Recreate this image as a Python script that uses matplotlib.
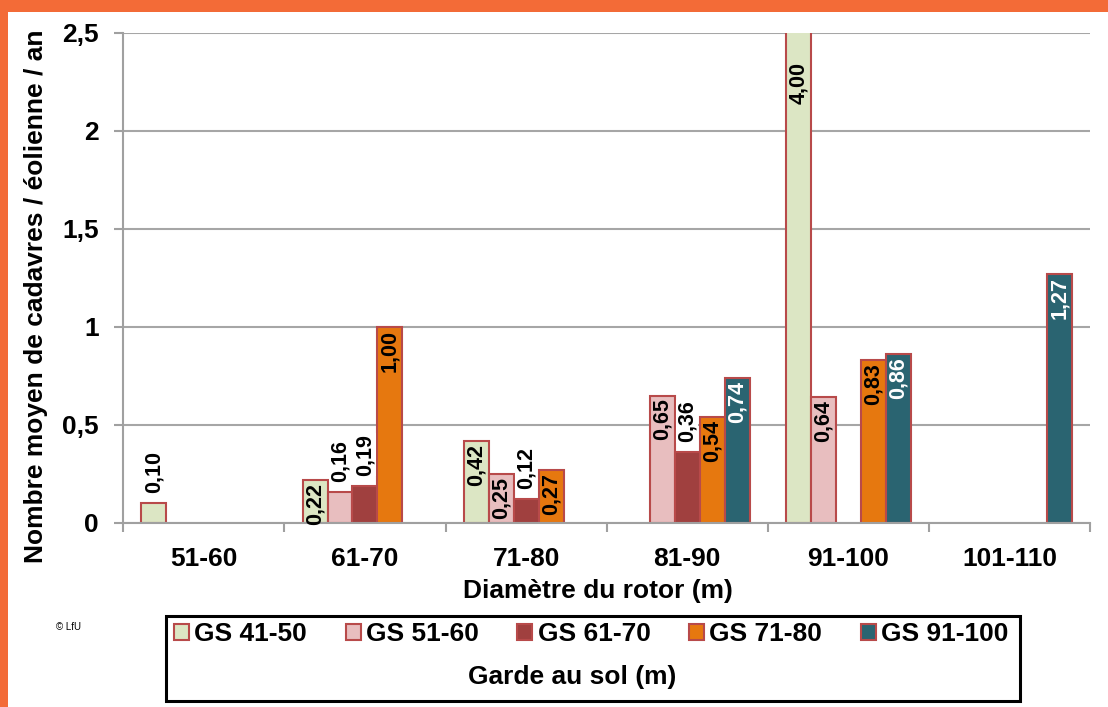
import numpy as np
import matplotlib
matplotlib.use("Agg")
import matplotlib.pyplot as plt
from matplotlib.patches import Rectangle
from matplotlib.ticker import FuncFormatter, FixedLocator

plt.rcParams['font.family'] = ['Liberation Sans', 'DejaVu Sans']

# ---- data ----
categories = ["51-60", "61-70", "71-80", "81-90", "91-100", "101-110"]
series_names = ["GS 41-50", "GS 51-60", "GS 61-70", "GS 71-80", "GS 91-100"]
gs_41_50 = [0.10, 0.22, 0.42, np.nan, 4.00, np.nan]
gs_51_60 = [np.nan, 0.16, 0.25, 0.65, 0.64, np.nan]
gs_61_70 = [np.nan, 0.19, 0.12, 0.36, np.nan, np.nan]
gs_71_80 = [np.nan, 1.00, 0.27, 0.54, 0.83, np.nan]
gs_91_100 = [np.nan, np.nan, np.nan, 0.74, 0.86, 1.27]
series_values = [gs_41_50, gs_51_60, gs_61_70, gs_71_80, gs_91_100]
y_ticks = [0, 0.5, 1, 1.5, 2, 2.5]

xlabel = "Diamètre du rotor (m)"
ylabel = "Nombre moyen de cadavres / éolienne / an"
legend_title = "Garde au sol (m)"

# ---- style ----
colors = ["#DCE6C4", "#E8BEBF", "#A0403F", "#E6780F", "#2A6471"]
label_colors = ["black", "black", "black", "black", "white"]
edge = "#B84A4A"
orange_frame = "#F36B37"
grid_c = "#A6A6A6"
W, H = 1108, 707
fig = plt.figure(figsize=(W / 100, H / 100), dpi=100)
fig.patch.set_facecolor("white")

ax_l, ax_r, ax_t, ax_b = 123.3, 1090, 32.7, 523
ax = fig.add_axes([ax_l / W, 1 - ax_b / H, (ax_r - ax_l) / W, (ax_b - ax_t) / H])

ymax = 2.5
ax.set_ylim(0, ymax)
ax.set_xlim(-0.5, len(categories) - 0.5)

bw = 0.155
x = np.arange(len(categories))
handles = []
for j, vals in enumerate(series_values):
    vals = np.array(vals, dtype=float)
    xs = x + (j - 2) * bw
    mask = ~np.isnan(vals)
    bars = ax.bar(xs[mask], vals[mask], width=bw, color=colors[j],
                  edgecolor=edge, linewidth=1.5, zorder=3, label=series_names[j])
    handles.append(bars)
    for xi, v in zip(xs[mask], vals[mask]):
        txt = f"{v:.2f}".replace(".", ",")
        inside = (j != 2) and v >= 0.2
        if inside:
            if v > ymax:
                yy, off = ymax, -29 * 0.72
            else:
                yy, off = v, -3 * 0.72
            ax.annotate(txt, (xi, yy), xytext=(0, off), textcoords="offset points",
                        rotation=90, ha="center", va="top", fontsize=15.5,
                        fontweight="bold",
                        color=label_colors[j], zorder=5, annotation_clip=False)
        else:
            ax.annotate(txt, (xi, v), xytext=(0, 10 * 0.72), textcoords="offset points",
                        rotation=90, ha="center", va="bottom", fontsize=15.5,
                        fontweight="bold", color="black", zorder=5,
                        bbox=dict(facecolor="white", edgecolor="none", pad=0.5))

# axes styling
for s in ["top", "right"]:
    ax.spines[s].set_visible(False)
for s in ["left", "bottom"]:
    ax.spines[s].set_color("#A0A0A0")
    ax.spines[s].set_linewidth(1.5)
ax.spines["bottom"].set_zorder(4)

ax.yaxis.set_major_locator(FixedLocator(y_ticks))
ax.yaxis.set_major_formatter(FuncFormatter(lambda v, p: f"{v:g}".replace(".", ",")))
ax.tick_params(axis="y", length=6.5, width=1.5, color="#A0A0A0", pad=11,
               labelsize=19)
ax.grid(axis="y", color=grid_c, linewidth=1.5, zorder=0)
ax.set_axisbelow(True)

ax.set_xticks(np.arange(-0.5, len(categories), 1.0))
ax.set_xticklabels([])
ax.set_xticks(x, minor=True)
ax.set_xticklabels(categories, minor=True)
ax.tick_params(axis="x", which="major", length=6.5, width=1.5, color="#A0A0A0")
ax.tick_params(axis="x", which="minor", length=0, pad=17, labelsize=19)
for lab in ax.get_xticklabels(minor=True) + ax.get_yticklabels():
    lab.set_fontweight("bold")

# axis titles
fig.text(598 / W, 1 - 591 / H, xlabel, ha="center", va="center",
         fontsize=19, fontweight="bold")
fig.text(36 / W, 1 - 296 / H, ylabel, ha="center", va="center", rotation=90,
         fontsize=19, fontweight="bold")

# legend box
fig.add_artist(Rectangle((166 / W, 1 - 701 / H), (1020 - 166) / W, (701 - 616) / H,
                         transform=fig.transFigure, facecolor="none",
                         edgecolor="black", linewidth=2.2))
fig.legend(handles=handles, labels=series_names, ncol=5, frameon=False,
           loc="center left", bbox_to_anchor=(174 / W, 1 - 634 / H),
           prop=dict(size=19, weight="bold"), handlelength=0.57, handleheight=0.57,
           handletextpad=0.2, columnspacing=1.46, borderpad=0, borderaxespad=0)
fig.text(572 / W, 1 - 677 / H, legend_title, ha="center", va="center",
         fontsize=19, fontweight="bold")

fig.text(56 / W, 1 - 627 / H, "© LfU", ha="left", va="center", fontsize=7)

# orange frame bands
fig.add_artist(Rectangle((0, 1 - 12 / H), 1, 12 / H, transform=fig.transFigure,
                         facecolor=orange_frame, edgecolor="none"))
fig.add_artist(Rectangle((0, 0), 8 / W, 1, transform=fig.transFigure,
                         facecolor=orange_frame, edgecolor="none"))

fig.savefig("out.png", dpi=100)
